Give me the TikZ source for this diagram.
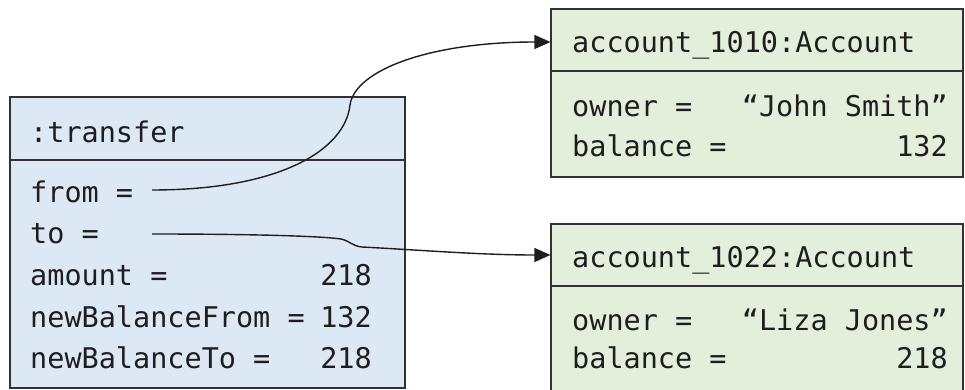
\documentclass[tikz,border=0pt]{standalone}
\usepackage{fontspec}
\setmonofont{DejaVu Sans Mono}
\usetikzlibrary{arrows.meta}
\definecolor{bluefill}{RGB}{221,232,245}
\definecolor{greenfill}{RGB}{227,239,218}
\definecolor{edge}{RGB}{50,50,50}
\definecolor{ink}{RGB}{30,30,30}
\tikzset{
  objbox/.style={draw=edge, line width=1.2pt, rectangle, inner sep=0pt},
  bluebox/.style={objbox, fill=bluefill},
  greenbox/.style={objbox, fill=greenfill},
  lbl/.style={anchor=base west, inner sep=0pt, text=ink, font=\ttfamily\fontsize{28.5}{30}\selectfont},
  val/.style={anchor=base east, inner sep=0pt, text=ink, font=\ttfamily\fontsize{28.5}{30}\selectfont},
  link/.style={draw=ink, line width=1.4pt, -{Triangle[length=16pt,width=14pt]}}
}
\begin{document}
\begin{tikzpicture}[x=1pt,y=-1pt]
\clip (0,0) rectangle (965,390);
\fill[white] (0,0) rectangle (965,390);
% left object
\node[bluebox, minimum width=395pt, minimum height=63pt] (th) at (207.5,128.5) {};
\node[bluebox, minimum width=395pt, minimum height=228pt] (tb) at (207.5,274) {};
\node[lbl] (tname) at (30,143) {:transfer};
\node[lbl] (tfrom) at (30,202) {from =};
\node[lbl] (tto) at (30,243) {to =};
\node[lbl] (tamt) at (30,285) {amount =};
\node[val] (tamtv) at (372,285) {218};
\node[lbl] (tnbf) at (30,327) {newBalanceFrom =};
\node[val] (tnbfv) at (372,327) {132};
\node[lbl] (tnbt) at (30,368) {newBalanceTo =};
\node[val] (tnbtv) at (372,368) {218};
% top right object
\node[greenbox, minimum width=412pt, minimum height=62pt] (ah) at (757,40) {};
\node[greenbox, minimum width=412pt, minimum height=106pt] (ab) at (757,124) {};
\node[lbl] (aname) at (572,53) {account\_1010:Account};
\node[lbl] (aown) at (572,117) {owner =};
\node[val] (aownv) at (948,117) {“John Smith”};
\node[lbl] (abal) at (572,157) {balance =};
\node[val] (abalv) at (948,157) {132};
% bottom right object
\node[greenbox, minimum width=412pt, minimum height=62pt] (bh) at (757,255) {};
\node[greenbox, minimum width=412pt, minimum height=130pt] (bb) at (757,351) {};
\node[lbl] (bname) at (572,267) {account\_1022:Account};
\node[lbl] (bown) at (572,330) {owner =};
\node[val] (bownv) at (948,330) {“Liza Jones”};
\node[lbl] (bbal) at (572,368) {balance =};
\node[val] (bbalv) at (948,368) {218};
% connectors
\coordinate (fromstart) at (152,190);
\coordinate (fromkink) at (350,105);
\coordinate (tostart) at (152,234);
\coordinate (tokinka) at (341,239);
\coordinate (tokinkb) at (362,247);
\path[link] (fromstart) .. controls (280,190) and (345,150) .. (fromkink)
  .. controls (355,70) and (430,42) .. (ah.west |- 0,42);
\path[link] (tostart) .. controls (250,234) and (320,236) .. (tokinka)
  .. controls (350,241) and (352,246) .. (tokinkb)
  .. controls (420,250) and (480,255) .. (bh.west);
\end{tikzpicture}
\end{document}
